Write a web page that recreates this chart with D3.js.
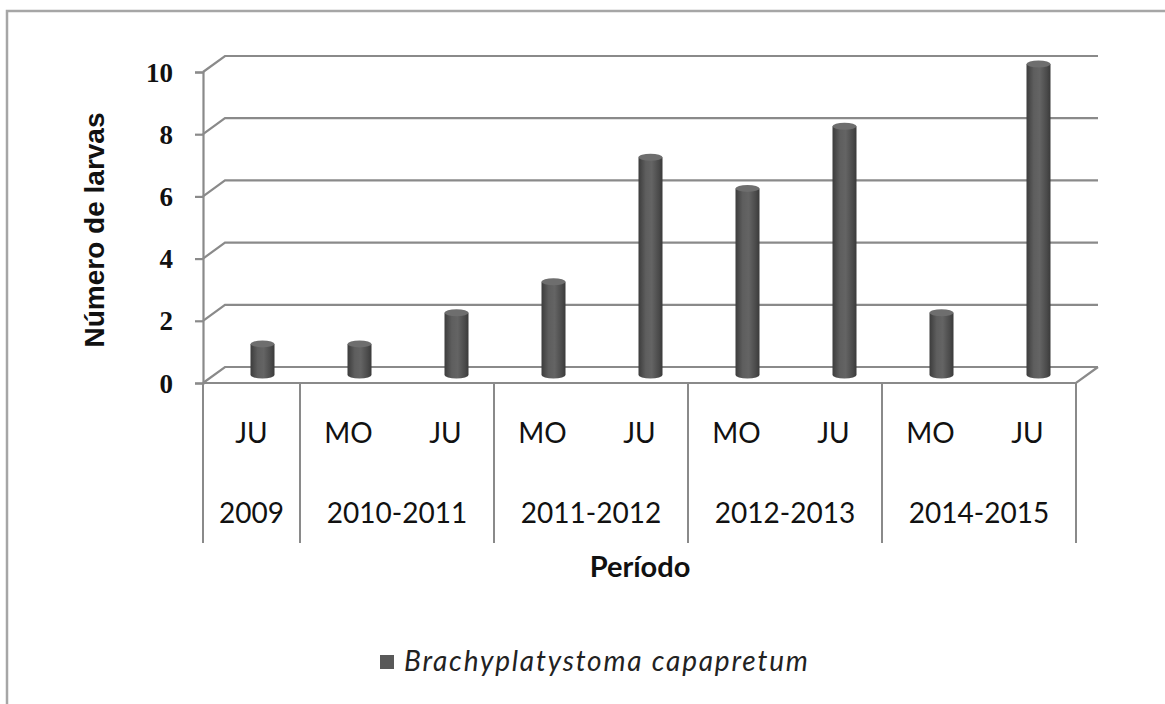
<!DOCTYPE html>
<html>
<head>
<meta charset="utf-8">
<script src="https://cdn.jsdelivr.net/npm/d3@7"></script>
<style>
  html, body { margin: 0; padding: 0; background: #fff; }
  svg { display: block; }
</style>
</head>
<body>
<svg id="chart" width="1165" height="704"></svg>
<script>
// Larvae counts per sampling period
const seasons = ["JU", "MO", "JU", "MO", "JU", "MO", "JU", "MO", "JU"];
const larvae = [1, 1, 2, 3, 7, 6, 8, 2, 10];
const yearLabels = ["2009", "2010-2011", "2011-2012", "2012-2013", "2014-2015"];
const yearSpans = [1, 2, 2, 2, 2];
const yTicks = [0, 2, 4, 6, 8, 10];
const seriesName = "Brachyplatystoma capapretum";

const svg = d3.select("#chart");
const barColor = "#595959";
const gridColor = "#8a8a8a";

// plot frame (front face of the 3D box) and depth offset
const left = 203, right = 1076, front0 = 383, front10 = 72;
const depthX = 22, depthY = -16;

const x = d3.scaleBand().domain(d3.range(seasons.length)).range([left, right]).padding(0);
const y = d3.scaleLinear().domain([0, 10]).range([front0, front10]);

// outer chart border
svg.append("rect")
  .attr("x", 7).attr("y", 11).attr("width", 1170).attr("height", 710)
  .attr("fill", "#fff").attr("stroke", "#a6a6a6").attr("stroke-width", 2.5);

const defs = svg.append("defs");
const grad = defs.append("linearGradient").attr("id", "cyl").attr("x1", "0").attr("x2", "1").attr("y1", "0").attr("y2", "0");
[[0, "#3c3c3c"], [0.3, "#5e5e5e"], [0.55, "#646464"], [0.85, "#4a4a4a"], [1, "#3a3a3a"]]
  .forEach(([o, c]) => grad.append("stop").attr("offset", o).attr("stop-color", c));

// back-wall gridlines with the diagonal side-wall segments
const grid = svg.append("g").attr("stroke", gridColor).attr("stroke-width", 2.2).attr("fill", "none");
yTicks.forEach(t => {
  const yf = y(t);
  grid.append("path")
    .attr("d", `M${left},${yf} L${left + depthX},${yf + depthY} L${right + depthX},${yf + depthY}`);
});

// floor front edge and right side
grid.append("path")
  .attr("d", `M${left},${front0} L${right},${front0} L${right + depthX},${front0 + depthY}`);

// y axis on the front-left edge
const yAxis = d3.axisLeft(y).tickValues(yTicks).tickSize(8).tickPadding(22).tickFormat(d3.format("d"));
const gy = svg.append("g").attr("transform", `translate(${left},0)`).call(yAxis);
gy.select(".domain").attr("stroke", gridColor).attr("stroke-width", 2.2);
gy.selectAll(".tick line").attr("stroke", gridColor).attr("stroke-width", 2.2);
gy.selectAll(".tick text")
  .attr("font-family", "'Liberation Serif', 'DejaVu Serif', serif")
  .attr("font-weight", "bold")
  .attr("font-size", 27).attr("fill", "#111").attr("dy", "0.34em");

// cylinders, standing at mid depth
const bw = 24, ry = 3.5;
const bars = svg.append("g");
larvae.forEach((v, i) => {
  const cx = x(i) + x.bandwidth() / 2 + depthX / 2;
  const yb = y(0) + depthY / 2;
  const yt = y(v) + depthY / 2;
  const g = bars.append("g");
  g.append("path")
    .attr("d", `M${cx - bw / 2},${yt} L${cx - bw / 2},${yb} A${bw / 2},${ry} 0 0 0 ${cx + bw / 2},${yb} L${cx + bw / 2},${yt} Z`)
    .attr("fill", "url(#cyl)");
  g.append("ellipse")
    .attr("cx", cx).attr("cy", yt).attr("rx", bw / 2).attr("ry", ry)
    .attr("fill", "#6e6e6e");
});

// category dividers below the floor
const xl = svg.append("g").attr("stroke", gridColor).attr("stroke-width", 2);
let idx = 0;
const edges = [0];
yearSpans.forEach(s => { idx += s; edges.push(idx); });
edges.forEach(e => {
  const xp = e === seasons.length ? right : x(e);
  xl.append("line").attr("x1", xp).attr("x2", xp).attr("y1", front0).attr("y2", 543);
});

const labelFont = "Lato, 'Open Sans', sans-serif";
svg.append("g").selectAll("text").data(seasons).join("text")
  .attr("x", (d, i) => x(i) + x.bandwidth() / 2)
  .attr("y", 443)
  .attr("text-anchor", "middle")
  .attr("font-family", labelFont).attr("font-size", 28).attr("fill", "#111")
  .text(d => d);

let start = 0;
const yearG = svg.append("g");
yearLabels.forEach((lab, k) => {
  const x0 = x(start), x1 = x(start + yearSpans[k] - 1) + x.bandwidth();
  yearG.append("text")
    .attr("x", (x0 + x1) / 2).attr("y", 523)
    .attr("text-anchor", "middle")
    .attr("font-family", labelFont).attr("font-size", 28).attr("fill", "#111")
    .text(lab);
  start += yearSpans[k];
});

// axis titles
svg.append("text")
  .attr("transform", "translate(104,230) rotate(-90)")
  .attr("text-anchor", "middle")
  .attr("font-family", "'Liberation Sans', Arial, sans-serif")
  .attr("font-weight", "bold").attr("font-size", 28).attr("fill", "#111")
  .text("Número de larvas");

svg.append("text")
  .attr("x", 640).attr("y", 577)
  .attr("text-anchor", "middle")
  .attr("font-family", labelFont).attr("font-weight", "bold").attr("font-size", 29).attr("fill", "#111")
  .text("Período");

// legend
svg.append("rect").attr("x", 380).attr("y", 655).attr("width", 14).attr("height", 14).attr("fill", barColor);
svg.append("text")
  .attr("x", 404).attr("y", 671)
  .attr("font-family", labelFont).attr("font-style", "italic").attr("font-size", 28)
  .attr("letter-spacing", 1.8).attr("fill", "#222")
  .text(seriesName);
</script>
</body>
</html>
